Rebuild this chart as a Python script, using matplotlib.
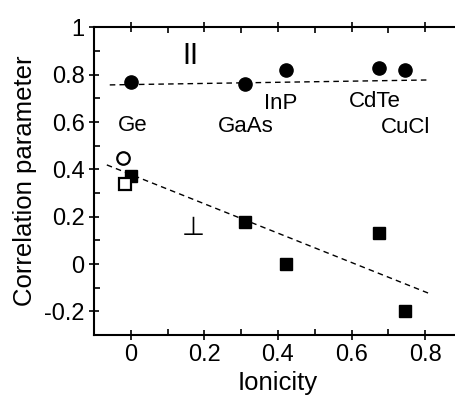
import matplotlib
matplotlib.use("Agg")
import matplotlib.pyplot as plt
from matplotlib.ticker import MultipleLocator, FuncFormatter

plt.rcParams['font.family'] = ['Liberation Sans', 'DejaVu Sans']

# Data
materials = ["Ge", "GaAs", "InP", "CdTe", "CuCl"]
ionicity = [0.0, 0.31, 0.421, 0.675, 0.746]
par_corr = [0.771, 0.761, 0.820, 0.827, 0.820]
perp_corr = [0.371, 0.179, 0.0, 0.13, -0.199]

open_circle_x = [-0.021]
open_circle_y = [0.448]
open_square_x = [-0.015]
open_square_y = [0.340]

par_fit_x = [-0.057, 0.814]
par_fit_y = [0.757, 0.778]
perp_fit_x = [-0.065, 0.809]
perp_fit_y = [0.419, -0.123]

label_x = [0.006, 0.313, 0.408, 0.664, 0.748]
label_y = [0.584, 0.580, 0.677, 0.686, 0.575]

fig = plt.figure(figsize=(4.56, 3.97), dpi=100)
ax = fig.add_axes([0.206, 0.156, 0.807, 0.775])

dash = (0, (4, 3))
ax.plot(par_fit_x, par_fit_y, color='black', lw=1.0, linestyle=dash, zorder=1)
ax.plot(perp_fit_x, perp_fit_y, color='black', lw=1.0, linestyle=dash, zorder=1)

ax.plot(ionicity, par_corr, 'o', color='black', markersize=9.5, zorder=3)
ax.plot(ionicity, perp_corr, 's', color='black', markersize=8.5, zorder=3)
ax.plot(open_circle_x, open_circle_y, 'o', mfc='white', mec='black', mew=1.6,
        markersize=9.0, zorder=4)
ax.plot(open_square_x, open_square_y, 's', mfc='white', mec='black', mew=1.6,
        markersize=8.2, zorder=4)

for name, x, y in zip(materials, label_x, label_y):
    ax.text(x, y, name, fontsize=16, ha='center', va='center')

# parallel symbol (two bars) and perpendicular symbol
ax.text(0.150, 0.888, "|", fontsize=15.5, fontweight='bold', ha='center', va='center')
ax.text(0.170, 0.888, "|", fontsize=15.5, fontweight='bold', ha='center', va='center')
ax.text(0.169, 0.152, "\u22a5", fontsize=19, ha='center', va='center',
        family=['DejaVu Sans'])

ax.set_xlim(-0.1, 0.9)
ax.set_ylim(-0.3, 1.0)

ax.xaxis.set_major_locator(MultipleLocator(0.2))
ax.xaxis.set_minor_locator(MultipleLocator(0.1))
ax.yaxis.set_major_locator(MultipleLocator(0.2))
ax.yaxis.set_minor_locator(MultipleLocator(0.1))

def fmt(v, pos):
    s = "%.1f" % v
    if s in ("-0.0", "0.0"):
        return "0"
    if s == "1.0":
        return "1"
    return s

ax.xaxis.set_major_formatter(FuncFormatter(fmt))
ax.yaxis.set_major_formatter(FuncFormatter(fmt))

ax.tick_params(which='major', direction='inout', length=7.5, width=1.2,
               top=True, right=True, labelsize=17, pad=3)
ax.tick_params(which='minor', direction='in', length=4, width=1.2,
               top=True, right=True)

for sp in ax.spines.values():
    sp.set_linewidth(1.5)

ax.set_xlabel("Ionicity", fontsize=18.5, labelpad=3)
ax.set_ylabel("Correlation parameter", fontsize=18.5, labelpad=5)

fig.savefig("out.png", dpi=100)
